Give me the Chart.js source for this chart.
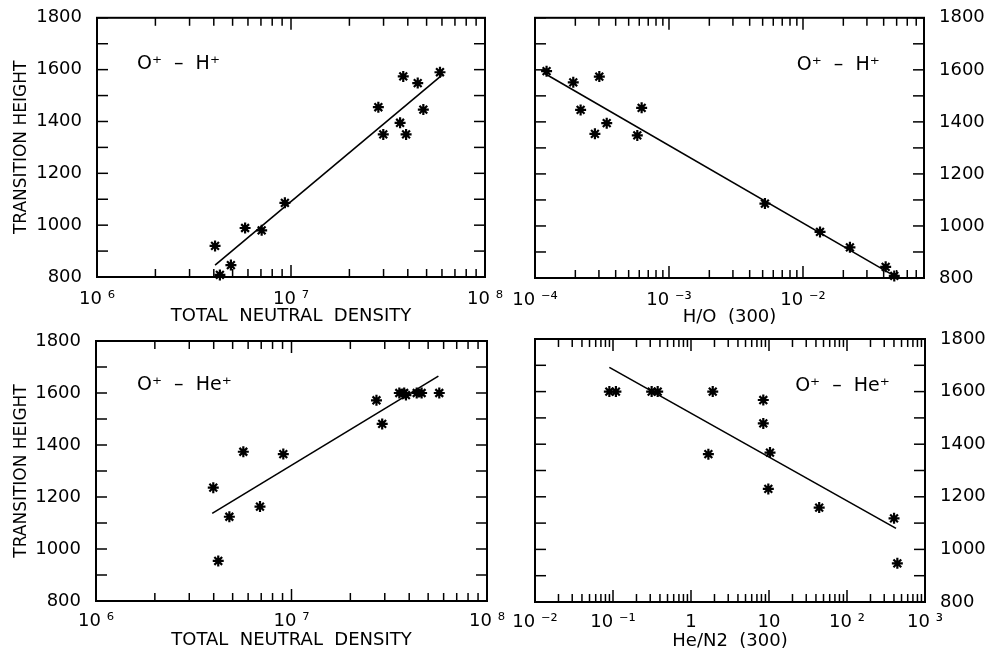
<!DOCTYPE html>
<html>
<head>
<meta charset="utf-8">
<script src="https://cdn.jsdelivr.net/npm/chart.js@4.4.1/dist/chart.umd.min.js"></script>
<style>
  html, body { margin: 0; padding: 0; background: #fff; }
  #wrap { position: relative; width: 987px; height: 654px; background: #fff; }
  #wrap canvas { position: absolute; left: 0; top: 0; width: 987px; height: 654px; }
</style>
</head>
<body>
<div id="wrap">
  <canvas id="densityH" width="987" height="654"></canvas>
  <canvas id="ratioHO" width="987" height="654"></canvas>
  <canvas id="densityHe" width="987" height="654"></canvas>
  <canvas id="ratioHeN2" width="987" height="654"></canvas>
</div>
<script>
// O+ - H+ vs total neutral density
const densityHX = [4.06e6, 4.3e6, 4.9e6, 5.8e6, 7.06e6, 9.3e6, 2.82e7, 2.99e7, 3.79e7, 3.65e7, 3.92e7, 4.5e7, 4.81e7, 5.86e7];
const densityHY = [920, 808, 846, 989, 980, 1086, 1455, 1350, 1574, 1395, 1350, 1548, 1446, 1590];
const densityHFitX = [4.06e6, 5.98e7];
const densityHFitY = [846, 1578];

// O+ - H+ vs H/O (300)
const ratioHOX = [1.22e-4, 1.93e-4, 2.19e-4, 2.8e-4, 3.02e-4, 3.43e-4, 5.8e-4, 6.25e-4, 5.2e-3, 1.34e-2, 2.24e-2, 4.14e-2, 4.8e-2];
const ratioHOY = [1595, 1552, 1446, 1354, 1574, 1395, 1348, 1454, 1086, 977, 918, 843, 808];
const ratioHOFitX = [1.19e-4, 4.8e-2];
const ratioHOFitY = [1585, 808];

// O+ - He+ vs total neutral density
const densityHeX = [3.98e6, 4.22e6, 4.81e6, 5.67e6, 6.9e6, 9.08e6, 2.72e7, 2.91e7, 3.56e7, 3.77e7, 3.85e7, 4.37e7, 4.63e7, 5.7e7];
const densityHeY = [1236, 954, 1124, 1374, 1163, 1365, 1572, 1481, 1600, 1600, 1592, 1600, 1600, 1600];
const densityHeFitX = [3.93e6, 5.64e7];
const densityHeFitY = [1137, 1665];

// O+ - He+ vs He/N2 (300)
const ratioHeX = [0.0898, 0.109, 0.313, 0.374, 1.9, 1.67, 8.45, 8.45, 10.3, 9.8, 44, 401, 442];
const ratioHeY = [1600, 1600, 1600, 1600, 1600, 1362, 1568, 1479, 1368, 1230, 1159, 1118, 947];
const ratioHeFitX = [0.0898, 425];
const ratioHeFitY = [1692, 1080];

// axis ticks
const heightTicks = [800, 1000, 1200, 1400, 1600, 1800];
const densityTicks = [1e6, 1e7, 1e8];
const densityTickLabels = ['10 \u2076', '10 \u2077', '10 \u2078'];
const hoTicks = [1e-4, 1e-3, 1e-2];
const hoTickLabels = ['10 \u207B\u2074', '10 \u207B\u00B3', '10 \u207B\u00B2'];
const heTicks = [1e-2, 1e-1, 1, 10, 1e2, 1e3];
const heTickLabels = ['10 \u207B\u00B2', '10 \u207B\u00B9', '1', '10', '10 \u00B2', '10 \u00B3'];

const FONT = 'DejaVu Sans';
Chart.defaults.font.family = FONT;
Chart.defaults.font.size = 18;
Chart.defaults.color = '#000';

const pts = (xs, ys) => xs.map((x, i) => ({ x: x, y: ys[i] }));

// inward ticks, frame and the ion-pair label
const frameTicks = {
    id: 'frameTicks',
    afterDraw(chart, args, opts) {
        const { ctx, chartArea: a } = chart;
        const x = chart.scales.x, y = chart.scales.y;
        const seg = (x1, y1, x2, y2) => { ctx.beginPath(); ctx.moveTo(x1, y1); ctx.lineTo(x2, y2); ctx.stroke(); };
        ctx.save();
        ctx.strokeStyle = '#000';
        ctx.lineWidth = 1.5;
        const lo = Math.floor(Math.log10(x.min)), hi = Math.ceil(Math.log10(x.max));
        for (let e = lo; e <= hi; e++) {
            for (let m = 1; m <= 9; m++) {
                const v = m * Math.pow(10, e);
                if (v < x.min * 0.999 || v > x.max * 1.001) continue;
                const px = x.getPixelForValue(v);
                const len = m === 1 ? 12 : 8;
                seg(px, a.bottom, px, a.bottom - len);
                seg(px, a.top, px, a.top + len);
            }
        }
        for (let v = y.min; v <= y.max; v += 100) {
            const py = y.getPixelForValue(v);
            seg(a.left, py, a.left + 11, py);
            seg(a.right, py, a.right - 11, py);
        }
        ctx.lineWidth = 2;
        ctx.strokeRect(a.left, a.top, a.width, a.height);
        ctx.fillStyle = '#000';
        ctx.font = '19px "' + FONT + '"';
        ctx.textBaseline = 'middle';
        ctx.fillText(opts.label, a.left + a.width * opts.lx, a.top + a.height * opts.ly);
        ctx.restore();
    }
};

function makePanel(id, p) {
    new Chart(document.getElementById(id), {
        type: 'scatter',
        data: {
            datasets: [{
                data: pts(p.xs, p.ys),
                pointStyle: 'star',
                pointRadius: 5.5,
                borderWidth: 2.2,
                borderColor: '#000',
                backgroundColor: '#000',
                clip: false
            }, {
                data: pts(p.fitX, p.fitY),
                showLine: true,
                pointRadius: 0,
                borderColor: '#000',
                borderWidth: 1.6,
                clip: false
            }]
        },
        options: {
            responsive: false,
            animation: false,
            events: [],
            layout: { padding: p.pad },
            plugins: {
                legend: { display: false },
                tooltip: { enabled: false },
                frameTicks: { label: p.label, lx: p.lx, ly: p.ly }
            },
            scales: {
                x: {
                    type: 'logarithmic',
                    min: p.xMin,
                    max: p.xMax,
                    grid: { display: false },
                    border: { display: false },
                    afterBuildTicks: s => { s.ticks = p.xTicks.map(v => ({ value: v })); },
                    afterFit: s => { s.height = 50; },
                    ticks: {
                        autoSkip: false,
                        maxRotation: 0,
                        padding: p.xPad,
                        callback: v => p.xLabels[p.xTicks.indexOf(v)]
                    },
                    title: { display: true, text: p.xTitle, padding: { top: 1, bottom: 0 } }
                },
                y: {
                    position: p.yPos,
                    min: 800,
                    max: 1800,
                    grid: { display: false },
                    border: { display: false },
                    afterBuildTicks: s => { s.ticks = heightTicks.map(v => ({ value: v })); },
                    afterFit: s => { s.width = p.yWidth; },
                    ticks: { padding: 7, callback: v => String(v) },
                    title: {
                        display: p.yPos === 'left',
                        text: 'TRANSITION HEIGHT',
                        font: { size: 17 },
                        padding: { top: 11, bottom: 0 }
                    }
                }
            }
        },
        plugins: [frameTicks]
    });
}

makePanel('densityH', {
    xs: densityHX, ys: densityHY, fitX: densityHFitX, fitY: densityHFitY,
    xMin: 1e6, xMax: 1e8, xTicks: densityTicks, xLabels: densityTickLabels,
    xTitle: 'TOTAL  NEUTRAL  DENSITY', xPad: 4, yPos: 'left', yWidth: 97,
    pad: { left: 0, right: 502, top: 16, bottom: 327 },
    label: 'O\u207A  \u2013  H\u207A', lx: 0.103, ly: 0.18
});
makePanel('ratioHO', {
    xs: ratioHOX, ys: ratioHOY, fitX: ratioHOFitX, fitY: ratioHOFitY,
    xMin: 1e-4, xMax: 8e-2, xTicks: hoTicks, xLabels: hoTickLabels,
    xTitle: 'H/O  (300)', xPad: 4, yPos: 'right', yWidth: 63,
    pad: { left: 535, right: 0, top: 17, bottom: 326 },
    label: 'O\u207A  \u2013  H\u207A', lx: 0.673, ly: 0.18
});
makePanel('densityHe', {
    xs: densityHeX, ys: densityHeY, fitX: densityHeFitX, fitY: densityHeFitY,
    xMin: 1e6, xMax: 1e8, xTicks: densityTicks, xLabels: densityTickLabels,
    xTitle: 'TOTAL  NEUTRAL  DENSITY', xPad: 2, yPos: 'left', yWidth: 96,
    pad: { left: 0, right: 500, top: 341, bottom: 3 },
    label: 'O\u207A  \u2013  He\u207A', lx: 0.105, ly: 0.17
});
makePanel('ratioHeN2', {
    xs: ratioHeX, ys: ratioHeY, fitX: ratioHeFitX, fitY: ratioHeFitY,
    xMin: 1e-2, xMax: 1e3, xTicks: heTicks, xLabels: heTickLabels,
    xTitle: 'He/N2  (300)', xPad: 2, yPos: 'right', yWidth: 62,
    pad: { left: 535, right: 0, top: 339, bottom: 2 },
    label: 'O\u207A  \u2013  He\u207A', lx: 0.667, ly: 0.18
});
</script>
</body>
</html>
